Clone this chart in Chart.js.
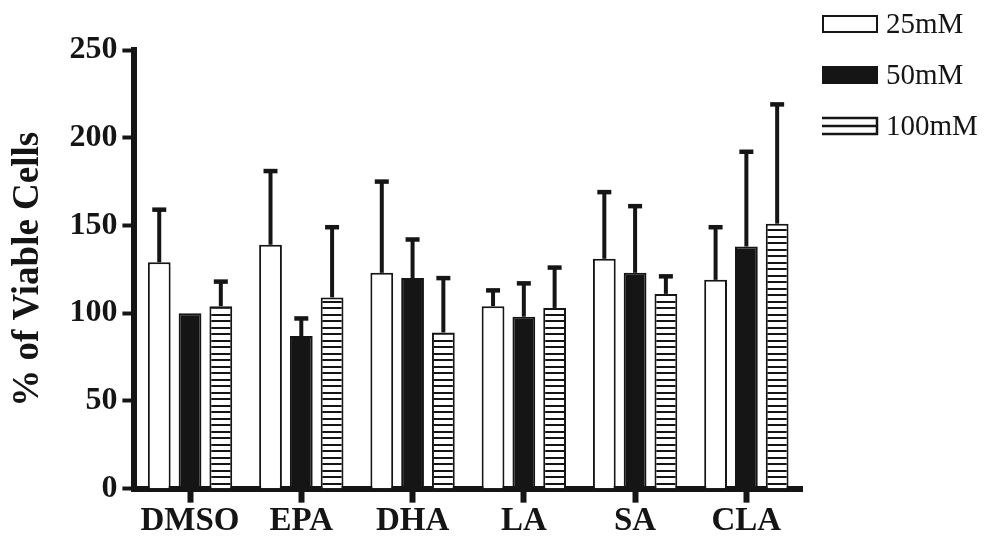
<!DOCTYPE html>
<html>
<head>
<meta charset="utf-8">
<script src="https://cdn.jsdelivr.net/npm/chart.js@4"></script>
<style>
  html, body { margin: 0; padding: 0; background: #fff; }
  canvas { display: block; }
</style>
</head>
<body>
<canvas id="cells" width="990" height="540"></canvas>
<script>
var acids = ['DMSO', 'EPA', 'DHA', 'LA', 'SA', 'CLA'];
var doses = ['25mM', '50mM', '100mM'];

// mean % viable cells and the upper SD arm for each dose
var mean25 = [129, 139, 123, 104, 131, 119];
var sd25 = [30, 42, 52, 9, 38, 30];
var mean50 = [100, 87, 120, 98, 123, 138];
var sd50 = [0, 10, 22, 19, 38, 54];
var mean100 = [104, 109, 89, 103, 111, 151];
var sd100 = [14, 40, 31, 23, 10, 68];

var yTicks = [0, 50, 100, 150, 200, 250];

var ink = '#151515';

// horizontal stripes for the 100mM bars
function stripes() {
    var c = document.createElement('canvas');
    c.width = 8;
    c.height = 13;
    var g = c.getContext('2d');
    g.fillStyle = '#fff';
    g.fillRect(0, 0, 8, 13);
    g.fillStyle = ink;
    g.fillRect(0, 2, 8, 2);
    g.fillRect(0, 8, 8, 2);
    return g.createPattern(c, 'repeat');
}
var hatch = stripes();

// upward error bars with a short cap
var errorBars = {
    id: 'errorBars',
    afterDatasetsDraw: function (chart) {
        var ctx = chart.ctx;
        var y = chart.scales.y;
        ctx.save();
        ctx.strokeStyle = ink;
        ctx.lineWidth = 4;
        chart.data.datasets.forEach(function (ds, i) {
            chart.getDatasetMeta(i).data.forEach(function (bar, j) {
                var sd = ds.sd[j];
                if (!sd) return;
                var top = y.getPixelForValue(ds.data[j] + sd);
                ctx.beginPath();
                ctx.moveTo(bar.x, bar.y);
                ctx.lineTo(bar.x, top);
                ctx.stroke();
                ctx.lineWidth = 4.5;
                ctx.beginPath();
                ctx.moveTo(bar.x - 7, top);
                ctx.lineTo(bar.x + 7, top);
                ctx.stroke();
                ctx.lineWidth = 4;
            });
        });
        ctx.restore();
    }
};

// key in the top right corner
var doseKey = {
    id: 'doseKey',
    afterDraw: function (chart) {
        var ctx = chart.ctx;
        var x = 822, w = 56, h = 18;
        ctx.save();
        ctx.font = '29px "Liberation Serif"';
        ctx.textBaseline = 'middle';
        chart.data.datasets.forEach(function (ds, i) {
            var cy = 24 + i * 51;
            var top = cy - h / 2;
            ctx.lineWidth = 2;
            ctx.strokeStyle = ink;
            if (i === 2) {
                ctx.fillStyle = '#fff';
                ctx.fillRect(x, top, w, h);
                ctx.lineWidth = 2.5;
                ctx.beginPath();
                [top + 1, cy, top + h - 1].forEach(function (ly) {
                    ctx.moveTo(x, ly);
                    ctx.lineTo(x + w, ly);
                });
                ctx.moveTo(x + w - 1, top);
                ctx.lineTo(x + w - 1, top + h);
                ctx.stroke();
            } else {
                ctx.fillStyle = ds.backgroundColor;
                ctx.fillRect(x, top, w, h);
                ctx.strokeRect(x + 1, top + 1, w - 2, h - 2);
            }
            ctx.fillStyle = ink;
            ctx.fillText(ds.label, x + w + 8, cy + 1);
        });
        ctx.restore();
    }
};

function barSet(label, data, sd, fill) {
    return {
        label: label,
        data: data,
        sd: sd,
        backgroundColor: fill,
        borderColor: ink,
        borderWidth: 2,
        categoryPercentage: 0.83,
        barPercentage: 0.74
    };
}

new Chart(document.getElementById('cells'), {
    type: 'bar',
    data: {
        labels: acids,
        datasets: [
            barSet(doses[0], mean25, sd25, '#fff'),
            barSet(doses[1], mean50, sd50, ink),
            barSet(doses[2], mean100, sd100, hatch)
        ]
    },
    plugins: [errorBars, doseKey],
    options: {
        responsive: false,
        animation: false,
        devicePixelRatio: 1,
        layout: { padding: { top: 50, right: 188, left: 6, bottom: 0 } },
        plugins: {
            legend: { display: false },
            tooltip: { enabled: false }
        },
        scales: {
            x: {
                border: { color: ink, width: 6 },
                grid: {
                    offset: false,
                    drawOnChartArea: false,
                    tickLength: 14,
                    tickWidth: 6,
                    tickColor: ink
                },
                ticks: {
                    color: ink,
                    padding: 3,
                    font: { family: 'Liberation Serif', size: 33, weight: 'bold', lineHeight: 0.95 }
                }
            },
            y: {
                min: 0,
                max: 250,
                afterBuildTicks: function (scale) {
                    scale.ticks = yTicks.map(function (v) { return { value: v }; });
                },
                border: { color: ink, width: 6 },
                grid: {
                    drawOnChartArea: false,
                    tickLength: 12,
                    tickWidth: 4,
                    tickColor: ink
                },
                ticks: {
                    color: ink,
                    padding: 5,
                    font: { family: 'Liberation Serif', size: 32, weight: 'bold' }
                },
                title: {
                    display: true,
                    text: '% of Viable Cells',
                    color: ink,
                    padding: { top: 0, bottom: 14 },
                    font: { family: 'Liberation Serif', size: 37, weight: 'bold' }
                }
            }
        }
    }
});
</script>
</body>
</html>
